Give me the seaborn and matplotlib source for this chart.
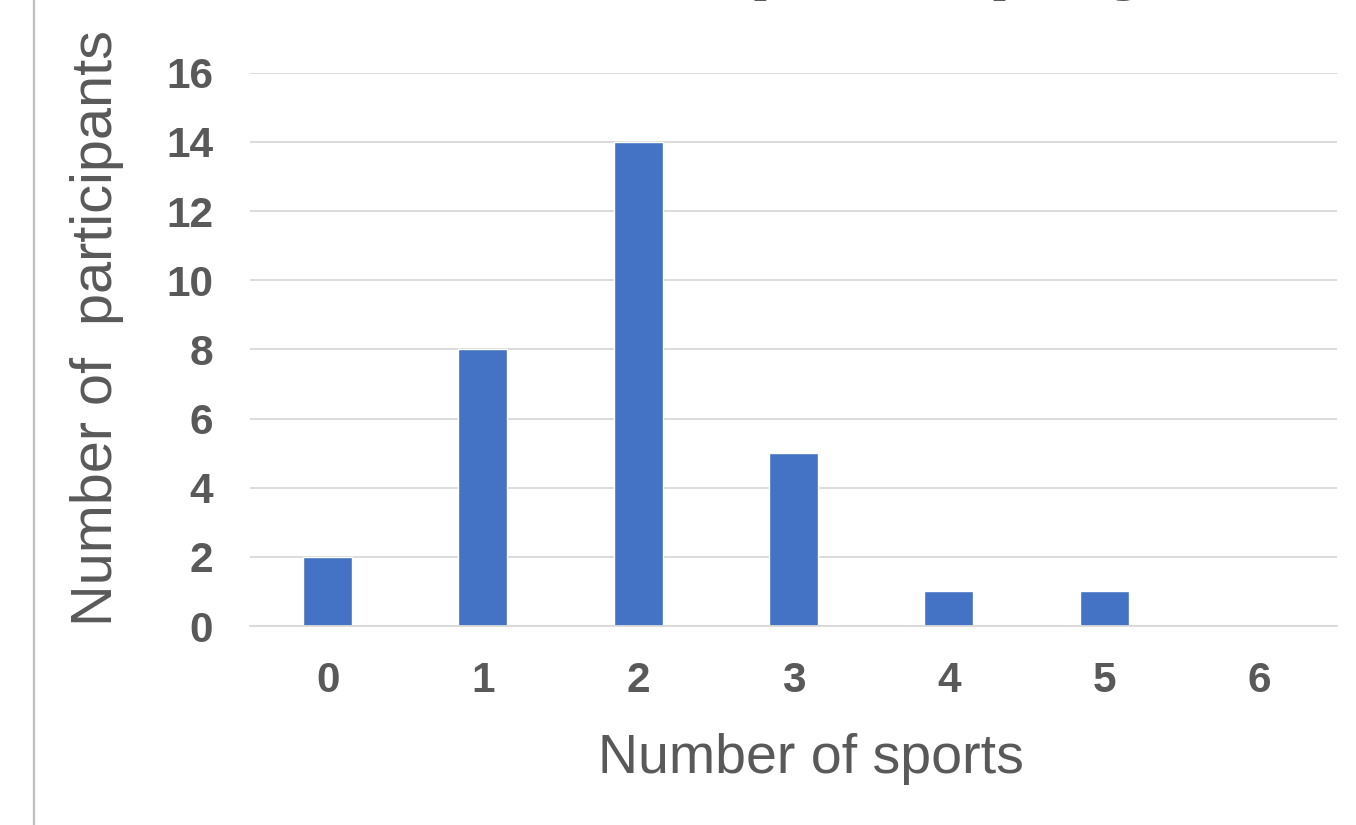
import matplotlib
matplotlib.use("Agg")
import matplotlib.pyplot as plt
from matplotlib.lines import Line2D
import seaborn as sns
import pandas as pd

# ---- data ----
sports = ["0", "1", "2", "3", "4", "5", "6"]
participants = [2, 8, 14, 5, 1, 1, 0]
y_ticks = [0, 2, 4, 6, 8, 10, 12, 14, 16]
title_text = "Number of sports played"
x_label = "Number of sports"
y_label = "Number of  participants"

df = pd.DataFrame({"sports": sports, "participants": participants})

sns.set_theme(style="white")
plt.rcParams["font.family"] = ["Liberation Sans", "DejaVu Sans"]

TEXT = "#595959"
GRID = "#D9D9D9"
BLUE = "#4472C4"

W, H = 1356, 825
fig = plt.figure(figsize=(W / 100, H / 100), dpi=100)
ax = fig.add_axes([250 / W, 1 - 626 / H, 1087 / W, (626 - 72.7) / H])

sns.barplot(data=df, x="sports", y="participants", order=sports,
            color=BLUE, saturation=1, width=0.315, ax=ax)

ax.set_xlim(-0.5, len(sports) - 0.5)
ax.set_ylim(0, 16)
ax.set_yticks(y_ticks)
ax.set_yticklabels([str(v) for v in y_ticks])

ax.yaxis.grid(True, color=GRID, linewidth=1.3)
ax.set_axisbelow(True)
for s in ["top", "right", "left"]:
    ax.spines[s].set_visible(False)
ax.spines["bottom"].set_color(GRID)
ax.spines["bottom"].set_linewidth(1.3)

ax.tick_params(axis="both", length=0, labelsize=30.5, labelcolor=TEXT)
ax.tick_params(axis="y", pad=26.5)
ax.tick_params(axis="x", pad=25)
for lab in ax.get_xticklabels() + ax.get_yticklabels():
    lab.set_fontweight("bold")

ax.set_xlabel(x_label, fontsize=40, color=TEXT)
ax.xaxis.label.set_va("baseline")
ax.xaxis.set_label_coords((811 - 250) / 1087, (626 - 773) / 553.3)

ax.set_ylabel(y_label, fontsize=41.5, color=TEXT)
ax.yaxis.label.set_va("baseline")
ax.yaxis.set_label_coords((112 - 250) / 1087, (626 - 328) / 553.3)

ax.set_title(title_text, fontsize=62, fontweight="bold", color=TEXT,
             x=(246 - 250) / 1087, y=1 + (72.7 + 8.5) / 553.3,
             ha="left", va="baseline")

fig.add_artist(Line2D([33.5 / W, 33.5 / W], [0, 1], transform=fig.transFigure,
                      color="#BFBFBF", linewidth=1.6))

fig.savefig("out.png", dpi=100)
